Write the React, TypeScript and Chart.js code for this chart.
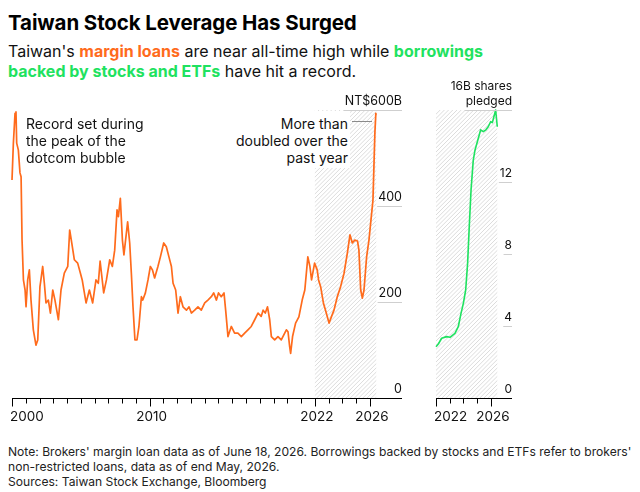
import React, { useEffect, useRef } from "react";
import { Chart, registerables } from "chart.js";

Chart.register(...registerables);

const FONT = "Inter, 'Liberation Sans', Arial, sans-serif";
const ORANGE = "#ff6b1c";
const GREEN = "#1fe260";
const INK = "#111111";

// Brokers' margin loans, NT$ billions, by decimal year
const marginYears = [
  2000.0, 2000.1, 2000.22, 2000.29, 2000.34, 2000.46, 2000.58, 2000.66, 2000.73, 2000.83,
  2000.95, 2001.02, 2001.14, 2001.26, 2001.38, 2001.55, 2001.74, 2001.87, 2002.03, 2002.1,
  2002.23, 2002.35, 2002.47, 2002.64, 2002.79, 2002.96, 2003.12, 2003.37, 2003.56, 2003.8,
  2004.05, 2004.19, 2004.34, 2004.53, 2004.77, 2004.97, 2005.1, 2005.38, 2005.62, 2005.86,
  2006.1, 2006.27, 2006.4, 2006.66, 2006.86, 2007.1, 2007.29, 2007.46, 2007.63, 2007.73,
  2007.87, 2008.02, 2008.13, 2008.4, 2008.55, 2008.67, 2008.79, 2008.93, 2009.08, 2009.22,
  2009.4, 2009.5, 2009.69, 2009.88, 2010.05, 2010.2, 2010.36, 2010.6, 2010.78, 2011.02,
  2011.21, 2011.4, 2011.58, 2011.7, 2011.89, 2012.06, 2012.23, 2012.42, 2012.67, 2012.86,
  2013.03, 2013.27, 2013.51, 2013.75, 2014.0, 2014.23, 2014.48, 2014.65, 2014.85, 2015.0,
  2015.2, 2015.4, 2015.52, 2015.69, 2015.93, 2016.17, 2016.41, 2016.66, 2016.9, 2017.14,
  2017.38, 2017.63, 2017.87, 2018.1, 2018.24, 2018.4, 2018.56, 2018.72, 2018.84, 2019.08,
  2019.32, 2019.56, 2019.68, 2019.93, 2020.05, 2020.17, 2020.24, 2020.38, 2020.6, 2020.84,
  2021.08, 2021.27, 2021.49, 2021.64, 2021.76, 2021.98, 2022.17, 2022.27, 2022.42, 2022.62,
  2022.83, 2023.03, 2023.2, 2023.39, 2023.63, 2023.87, 2024.12, 2024.36, 2024.55, 2024.72,
  2024.9, 2025.1, 2025.2, 2025.33, 2025.45, 2025.57, 2025.76, 2025.93, 2026.1, 2026.22,
  2026.29, 2026.36, 2026.43, 2026.46,
];
const marginLoans = [
  454, 531, 593, 596, 531, 517, 469, 461, 329, 246,
  225, 190, 246, 267, 204, 142, 110, 121, 232, 246,
  274, 239, 198, 204, 177, 225, 204, 163, 225, 260,
  274, 350, 323, 288, 281, 260, 246, 198, 225, 198,
  246, 239, 285, 219, 246, 288, 274, 308, 392, 378,
  416, 329, 298, 367, 323, 260, 190, 121, 121, 149,
  211, 204, 219, 246, 274, 267, 250, 274, 294, 323,
  315, 294, 274, 239, 225, 177, 211, 190, 183, 190,
  177, 183, 190, 183, 198, 204, 211, 219, 204, 219,
  211, 219, 183, 128, 149, 135, 135, 128, 135, 142,
  149, 163, 177, 170, 183, 177, 190, 163, 128, 121,
  128, 121, 128, 142, 138, 107, 93, 128, 156, 169,
  204, 225, 294, 274, 246, 281, 267, 246, 232, 198,
  177, 156, 169, 183, 211, 232, 260, 302, 340, 323,
  329, 327, 308, 225, 208, 225, 294, 329, 378, 412,
  482, 552, 593, 590,
];

// Shares pledged for non-restricted loans, billions
const pledgeYears = [
  2022.0, 2022.17, 2022.41, 2022.77, 2023.02, 2023.38, 2023.62, 2023.82, 2023.99, 2024.16,
  2024.3, 2024.42, 2024.55, 2024.71, 2024.84, 2025.08, 2025.25, 2025.44, 2025.63, 2025.8,
  2025.98, 2026.1, 2026.34, 2026.46,
];
const pledgedShares = [
  2.85, 3.0, 3.32, 3.41, 3.37, 3.59, 3.96, 4.7, 5.26, 6.0,
  7.48, 9.52, 11.56, 13.2, 13.78, 14.43, 14.9, 14.8, 14.9, 15.07,
  15.35, 15.3, 16.0, 15.07,
];

const marginTicks = [0, 200, 400, 600];
const marginTickLabels = [["0"], ["200"], ["400"], ["NT$600B"]];
const pledgeTicks = [0, 4, 8, 12, 16];
const pledgeTickLabels = [["0"], ["4"], ["8"], ["12"], ["16B shares", "pledged"]];
const marginYearLabels = [2000, 2010, 2022, 2026];
const pledgeYearLabels = [2022, 2026];
const shadedFrom = 2022;
const shadedTo = 2026.46;

type FrameCfg = {
  firstYear: number;
  lastYear: number;
  labeledYears: number[];
  yTicks: number[];
  yLabels: string[][];
  labelFont: number;
};

// Hatched recent period, underlined right-hand value labels and a yearly time axis
function framePlugin(cfg: FrameCfg) {
  return {
    id: "frame",
    beforeDatasetsDraw(chart: any) {
      const { ctx, scales } = chart;
      const x = scales.x;
      const y = scales.y;
      const x0 = x.getPixelForValue(shadedFrom);
      const x1 = x.getPixelForValue(shadedTo);
      const yTop = y.getPixelForValue(y.max);
      const yBot = y.getPixelForValue(0);
      const h = yBot - yTop;
      ctx.save();
      ctx.beginPath();
      ctx.rect(x0, yTop, x1 - x0, h);
      ctx.clip();
      ctx.strokeStyle = "#dcdcdc";
      ctx.lineWidth = 1;
      ctx.beginPath();
      for (let s = x0 - h; s < x1 + 4; s += 4.2) {
        ctx.moveTo(s, yBot);
        ctx.lineTo(s + h, yTop);
      }
      ctx.stroke();
      ctx.restore();
    },
    afterDatasetsDraw(chart: any) {
      const { ctx, chartArea, scales } = chart;
      const x = scales.x;
      const y = scales.y;
      const right = chartArea.right;
      const axisY = Math.round(y.getPixelForValue(0)) + 0.5;

      ctx.save();
      ctx.font = `${cfg.labelFont}px ${FONT}`;
      ctx.textAlign = "right";
      ctx.textBaseline = "alphabetic";
      cfg.yTicks.forEach((v, i) => {
        const py = Math.round(y.getPixelForValue(v)) + 0.5;
        const lines = cfg.yLabels[i];
        const last = lines[lines.length - 1];
        if (v !== 0) {
          const w = ctx.measureText(last).width;
          ctx.strokeStyle = "#cfcfcf";
          ctx.lineWidth = 1;
          ctx.beginPath();
          ctx.moveTo(right - w - 1, py);
          ctx.lineTo(right, py);
          ctx.stroke();
        }
        ctx.fillStyle = INK;
        lines.forEach((t, k) => {
          ctx.fillText(t, right, py - 5.5 - (lines.length - 1 - k) * 15.5);
        });
      });

      // time axis
      const left = x.getPixelForValue(cfg.firstYear);
      ctx.strokeStyle = "#000";
      ctx.lineWidth = 1;
      ctx.beginPath();
      ctx.moveTo(left, axisY);
      ctx.lineTo(right, axisY);
      for (let yr = cfg.firstYear; yr <= cfg.lastYear; yr++) {
        const px = Math.round(x.getPixelForValue(yr)) + 0.5;
        const major = cfg.labeledYears.includes(yr);
        ctx.moveTo(px, axisY - 0.5);
        ctx.lineTo(px, axisY + (major ? 8 : 5));
      }
      ctx.stroke();

      ctx.font = `13.5px ${FONT}`;
      ctx.fillStyle = INK;
      ctx.textAlign = "left";
      cfg.labeledYears.forEach((yr) => {
        const t = String(yr);
        const w = ctx.measureText(t).width;
        const px = x.getPixelForValue(yr);
        let lx = px - w / 2 + 2;
        if (lx < chartArea.left - 2) lx = chartArea.left - 2;
        ctx.fillText(t, lx, axisY + 22);
      });
      ctx.restore();
    },
  };
}

function lineChart(
  canvas: HTMLCanvasElement,
  xs: number[],
  ys: number[],
  color: string,
  width: number,
  xMin: number,
  xMax: number,
  yMax: number,
  padding: { left: number; right: number; top: number; bottom: number },
  cfg: FrameCfg
) {
  return new Chart(canvas, {
    type: "line",
    data: {
      datasets: [
        {
          data: xs.map((v, i) => ({ x: v, y: ys[i] })),
          borderColor: color,
          borderWidth: width,
          pointRadius: 0,
          tension: 0,
          borderJoinStyle: "round",
          clip: false as any,
        },
      ],
    },
    options: {
      animation: false,
      responsive: false,
      events: [],
      layout: { padding },
      scales: {
        x: { type: "linear", display: false, min: xMin, max: xMax },
        y: { type: "linear", display: false, min: 0, max: yMax },
      },
      plugins: { legend: { display: false }, tooltip: { enabled: false } },
    },
    plugins: [framePlugin(cfg)],
  } as any);
}

export default function App() {
  const leftRef = useRef<HTMLCanvasElement>(null);
  const rightRef = useRef<HTMLCanvasElement>(null);

  useEffect(() => {
    const a = lineChart(
      leftRef.current!,
      marginYears,
      marginLoans,
      ORANGE,
      1.7,
      2000,
      2028.33,
      600,
      { left: 12, right: 18, top: 50, bottom: 32 },
      {
        firstYear: 2000,
        lastYear: 2026,
        labeledYears: marginYearLabels,
        yTicks: marginTicks,
        yLabels: marginTickLabels,
        labelFont: 12.5,
      }
    );
    const b = lineChart(
      rightRef.current!,
      pledgeYears,
      pledgedShares,
      GREEN,
      1.6,
      2022,
      2027.53,
      16,
      { left: 26, right: 18, top: 50, bottom: 32 },
      {
        firstYear: 2022,
        lastYear: 2026,
        labeledYears: pledgeYearLabels,
        yTicks: pledgeTicks,
        yLabels: pledgeTickLabels,
        labelFont: 12,
      }
    );
    return () => {
      a.destroy();
      b.destroy();
    };
  }, []);

  const note: React.CSSProperties = {
    position: "absolute",
    fontFamily: FONT,
    color: INK,
    fontSize: 14,
    lineHeight: "17px",
    whiteSpace: "nowrap",
  };

  return (
    <div
      style={{
        position: "fixed",
        left: 0,
        top: 0,
        width: 640,
        height: 492,
        background: "#fff",
        overflow: "hidden",
        fontFamily: FONT,
        color: INK,
      }}
    >
      <div
        style={{
          position: "absolute",
          left: 8,
          top: 10,
          fontSize: 20.5,
          lineHeight: "25px",
          fontWeight: 700,
          color: "#000",
          letterSpacing: "-0.1px",
          whiteSpace: "nowrap",
        }}
      >
        Taiwan Stock Leverage Has Surged
      </div>
      <div
        style={{
          position: "absolute",
          left: 8,
          top: 41,
          fontSize: 16,
          lineHeight: "20px",
          whiteSpace: "nowrap",
        }}
      >
        Taiwan's <b style={{ color: ORANGE }}>margin loans</b> are near all-time high while{" "}
        <b style={{ color: GREEN }}>borrowings</b>
        <br />
        <b style={{ color: GREEN }}>backed by stocks and ETFs</b> have hit a record.
      </div>

      <canvas
        ref={leftRef}
        width={420}
        height={370}
        style={{ position: "absolute", left: 0, top: 60, width: 420, height: 370 }}
      />
      <canvas
        ref={rightRef}
        width={120}
        height={370}
        style={{ position: "absolute", left: 410, top: 60, width: 120, height: 370 }}
      />

      <div style={{ ...note, left: 26, top: 115 }}>
        Record set during
        <br />
        the peak of the
        <br />
        dotcom bubble
      </div>
      <div
        style={{
          ...note,
          right: 290,
          top: 111,
          padding: "4px 2px 2px 6px",
          textAlign: "right",
          background: "#fff",
        }}
      >
        More than
        <br />
        doubled over the
        <br />
        past year
      </div>
      <div
        style={{
          position: "absolute",
          left: 352,
          top: 121,
          width: 20,
          height: 1,
          background: "#8a8a8a",
        }}
      />

      <div
        style={{
          position: "absolute",
          left: 8,
          top: 445,
          fontSize: 12.1,
          lineHeight: "14.8px",
          color: "#222",
          whiteSpace: "nowrap",
        }}
      >
        Note: Brokers' margin loan data as of June 18, 2026. Borrowings backed by stocks and ETFs refer to brokers'
        <br />
        non-restricted loans, data as of end May, 2026.
        <br />
        Sources: Taiwan Stock Exchange, Bloomberg
      </div>
    </div>
  );
}
